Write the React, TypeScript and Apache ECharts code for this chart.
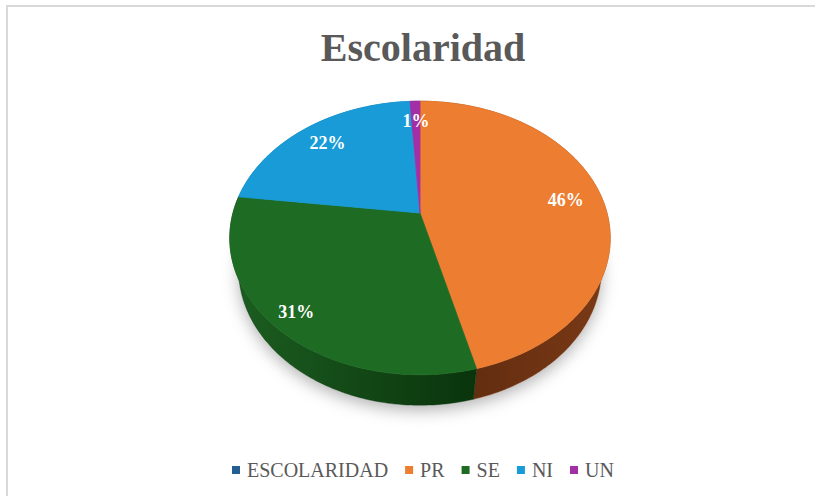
import React, { useEffect, useRef } from 'react';
import * as echarts from 'echarts';

// ---- data ----
const categories = ['ESCOLARIDAD', 'PR', 'SE', 'NI', 'UN'];
const values = [0, 46, 31, 22, 1];
const titleText = 'Escolaridad';

// ---- style ----
const colors = ['#255E91', '#ED7D31', '#1E6B24', '#189BD7', '#A32FA6'];
const wallLeft = ['#1b3f60', '#5a280e', '#1c5e21', '#0f6f9c', '#6e1f70'];
const wallRight = ['#1b3f60', '#7a3a16', '#0a340c', '#0f6f9c', '#6e1f70'];
const labelRadius = [0.8, 0.8, 0.88, 0.8, 0.8];
const SERIF = 'Liberation Serif';

const CX = 420, CY = 213, R = 187, ALPHA = Math.PI / 4, DP = 724, H = 48;

function proj(theta: number, r: number, h: number): number[] {
  const u = Math.sin(theta) * r * R;
  const v = -Math.cos(theta) * r * R;
  const y3 = v * Math.sin(ALPHA) - h * Math.cos(ALPHA);
  const z3 = v * Math.cos(ALPHA) + h * Math.sin(ALPHA);
  const s = DP / (DP - z3);
  return [CX + u * s, CY + y3 * s];
}

const total = values.reduce((a, b) => a + b, 0);

function arcPoints(a0: number, a1: number, r: number, h: number): number[][] {
  const n = Math.max(2, Math.ceil(((a1 - a0) * 180) / Math.PI));
  const pts: number[][] = [];
  for (let k = 0; k <= n; k++) pts.push(proj(a0 + ((a1 - a0) * k) / n, r, h));
  return pts;
}

function makeRenderItem(idx: number) {
  return (params: any, api: any) => {
    const val = api.value(0);
    let before = 0;
    for (let j = 0; j < idx; j++) before += values[j];
    const a0 = (before / total) * Math.PI * 2;
    const a1 = ((before + val) / total) * Math.PI * 2;
    const top = arcPoints(a0, a1, 1, 0);
    const bottom = arcPoints(a0, a1, 1, -H);
    const wallPts = top.concat(bottom.slice().reverse());
    let minX = Infinity, maxX = -Infinity;
    wallPts.forEach((p) => { minX = Math.min(minX, p[0]); maxX = Math.max(maxX, p[0]); });
    const mid = (a0 + a1) / 2;
    const lp = proj(mid, labelRadius[idx], 0);
    const pct = Math.round((val / total) * 100) + '%';
    return {
      type: 'group',
      children: [
        {
          type: 'polygon',
          z2: 1,
          shape: { points: wallPts },
          style: {
            fill: new echarts.graphic.LinearGradient(minX, 0, maxX, 0, [
              { offset: 0, color: wallLeft[idx] },
              { offset: 1, color: wallRight[idx] },
            ], true),
            stroke: wallRight[idx],
            lineWidth: 0.5,
          },
        },
        {
          type: 'polygon',
          z2: 10,
          shape: { points: [[CX, CY]].concat(top) },
          style: { fill: colors[idx], stroke: colors[idx], lineWidth: 0.8 },
        },
        {
          type: 'text',
          z2: 20,
          style: {
            text: pct,
            x: lp[0],
            y: lp[1],
            fill: '#ffffff',
            font: 'bold 18px "Liberation Serif"',
            textAlign: 'center',
            textVerticalAlign: 'middle',
          },
        },
      ],
    };
  };
}

export default function App() {
  const ref = useRef<HTMLDivElement>(null);
  useEffect(() => {
    if (!ref.current) return;
    const chart = echarts.init(ref.current, null, { renderer: 'svg' });
    const shadowPts = arcPoints(0, Math.PI * 2, 1, -H);
    const option: any = {
      animation: false,
      backgroundColor: '#ffffff',
      color: colors,
      textStyle: { fontFamily: SERIF },
      title: {
        text: titleText,
        left: 418,
        top: 22,
        textAlign: 'center',
        textStyle: { color: '#595959', fontSize: 40, fontWeight: 'bold', fontFamily: SERIF },
      },
      legend: {
        data: categories,
        left: 227,
        top: 455,
        icon: 'rect',
        itemWidth: 8,
        itemHeight: 8,
        itemGap: 17,
        selectedMode: false,
        textStyle: { color: '#595959', fontSize: 20, fontFamily: SERIF, padding: [0, 0, 0, 2] },
      },
      graphic: [
        {
          type: 'rect',
          z: 0,
          shape: { x: 7, y: 6, width: 900, height: 600 },
          style: { fill: 'none', stroke: '#d9d9d9', lineWidth: 2 },
        },
        {
          type: 'polygon',
          z: 0,
          shape: { points: shadowPts },
          style: { fill: '#ffffff', shadowBlur: 16, shadowColor: 'rgba(0,0,0,0.3)', shadowOffsetY: 5 },
        },
      ],
      series: categories.map((name, i) => ({
        type: 'custom',
        name,
        coordinateSystem: 'none',
        itemStyle: { color: colors[i] },
        data: values[i] > 0 ? [[values[i]]] : [],
        renderItem: makeRenderItem(i),
      })),
    };
    chart.setOption(option);
    return () => chart.dispose();
  }, []);
  return <div ref={ref} style={{ position: 'absolute', left: 0, top: 0, width: 815, height: 496 }} />;
}
